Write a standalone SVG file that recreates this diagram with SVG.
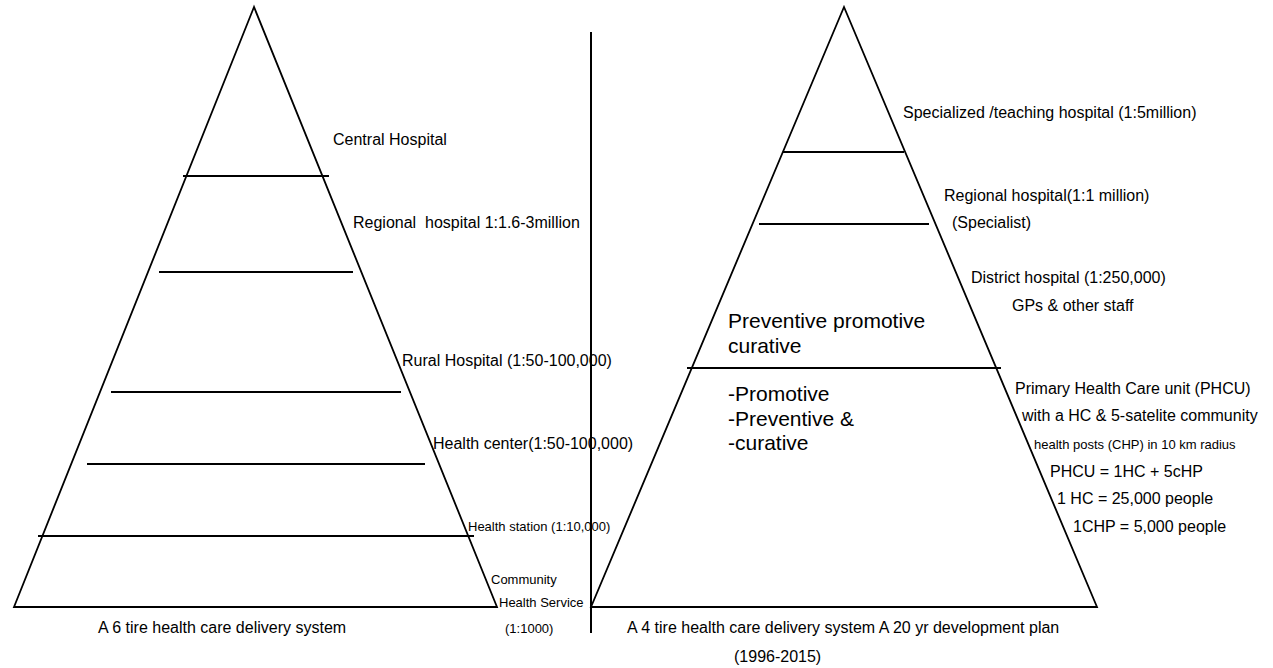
<svg xmlns="http://www.w3.org/2000/svg" width="1273" height="668" viewBox="0 0 1273 668">
<style>
.t{font-family:"Liberation Sans",Arial,sans-serif;font-size:16px;fill:#000}
.s{font-size:13px}
.b{font-size:21px}
.tri{fill:none;stroke:#000;stroke-width:1.8;stroke-linejoin:miter}
.ln{stroke:#000;stroke-width:2;fill:none}
</style>
<rect width="1273" height="668" fill="#fff"/>
<g id="left-pyramid">
<polygon class="tri" points="254,7 14,607 497,607"/>
<line class="ln" x1="183" y1="176" x2="329" y2="176"/>
<line class="ln" x1="159" y1="272" x2="353" y2="272"/>
<line class="ln" x1="111" y1="392" x2="401" y2="392"/>
<line class="ln" x1="87" y1="464" x2="425" y2="464"/>
<line class="ln" x1="38" y1="536" x2="474" y2="536"/>
</g>
<g id="left-labels">
<text class="t" x="333" y="145">Central Hospital</text>
<text class="t" x="353" y="228" xml:space="preserve">Regional  hospital 1:1.6-3million</text>
<text class="t" x="402" y="366">Rural Hospital (1:50-100,000)</text>
<text class="t" x="433" y="449">Health center(1:50-100,000)</text>
<text class="t s" x="468" y="531">Health station (1:10,000)</text>
<text class="t s" x="491" y="584">Community</text>
<text class="t s" x="499" y="607">Health Service</text>
<text class="t s" x="505" y="633">(1:1000)</text>
<text class="t" x="98" y="633">A 6 tire health care delivery system</text>
</g>
<g id="divider">
<line class="ln" x1="591" y1="32" x2="591" y2="633"/>
</g>
<g id="right-pyramid">
<polygon class="tri" points="844,7 591,607 1097,607"/>
<line class="ln" x1="783" y1="152" x2="904" y2="152"/>
<line class="ln" x1="759" y1="224" x2="929" y2="224"/>
<line class="ln" x1="687" y1="368" x2="1001" y2="368"/>
</g>
<g id="right-labels">
<text class="t" x="903" y="118">Specialized /teaching hospital (1:5million)</text>
<text class="t" x="944" y="201">Regional hospital(1:1 million)</text>
<text class="t" x="952" y="228">(Specialist)</text>
<text class="t" x="971" y="283">District hospital (1:250,000)</text>
<text class="t" x="1012" y="311">GPs &amp; other staff</text>
<text class="t b" x="728" y="328">Preventive promotive</text>
<text class="t b" x="728" y="353">curative</text>
<text class="t b" x="728" y="401">-Promotive</text>
<text class="t b" x="728" y="426">-Preventive &amp;</text>
<text class="t b" x="728" y="450">-curative</text>
<text class="t" x="1015" y="394">Primary Health Care unit (PHCU)</text>
<text class="t" x="1022" y="421">with a HC &amp; 5-satelite community</text>
<text class="t s" x="1034" y="449">health posts (CHP) in 10 km radius</text>
<text class="t" x="1050" y="477">PHCU = 1HC + 5cHP</text>
<text class="t" x="1057" y="504">1 HC = 25,000 people</text>
<text class="t" x="1073" y="532">1CHP = 5,000 people</text>
<text class="t" x="627" y="633">A 4 tire health care delivery system A 20 yr development plan</text>
<text class="t" x="734" y="662">(1996-2015)</text>
</g>
</svg>
